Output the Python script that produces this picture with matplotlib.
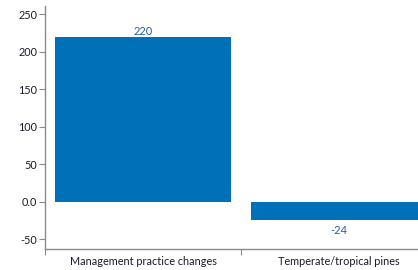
import matplotlib
matplotlib.use("Agg")
import matplotlib.pyplot as plt

categories = ["Management practice changes", "Temperate/tropical pines"]
values = [220, -24]
value_labels = ["220", "-24"]
ytick_values = [-50, 0, 50, 100, 150, 200, 250]
ytick_labels = ["-50", "0.0", "50", "100", "150", "200", "250"]

plt.rcParams['font.family'] = ['Lato', 'DejaVu Sans']

fig = plt.figure(figsize=(4.18, 2.70), dpi=100)
# the right part of the chart is cut off in the reference, so the axes run past the figure edge
ax = fig.add_axes([45/418, 21/270, 392/418, 243/270])

bar_color = '#0070b9'
axis_color = '#8a8a8a'
text_color = '#1a1a2a'

x = list(range(len(categories)))
ax.bar(x, values, width=0.9, color=bar_color)

for xi, v, lab in zip(x, values, value_labels):
    if v >= 0:
        ax.annotate(lab, (xi, v), xytext=(0, 0), textcoords='offset points',
                    ha='center', va='bottom', fontsize=8, color='#1f5fa8')
    else:
        ax.annotate(lab, (xi, v), xytext=(0, -4), textcoords='offset points',
                    ha='center', va='top', fontsize=8, color='#1f5fa8')

ax.set_xlim(-0.5, 1.5)
ax.set_ylim(-63, 261)

ax.set_yticks(ytick_values)
ax.set_yticklabels(ytick_labels)
ax.set_xticks([-0.5, 0.5], labels=[])
ax.set_xticks(x, labels=categories, minor=True)
ax.tick_params(axis='x', which='minor', length=0, pad=5, labelsize=7.8, labelcolor=text_color)
ax.tick_params(axis='x', which='major', length=4, color=axis_color, direction='out')
ax.tick_params(axis='y', length=4, color=axis_color, labelsize=7.8, pad=1.5, labelcolor=text_color)

for s in ['top', 'right']:
    ax.spines[s].set_visible(False)
for s in ['left', 'bottom']:
    ax.spines[s].set_color(axis_color)
    ax.spines[s].set_linewidth(1.0)

fig.savefig("out.png", dpi=100)
